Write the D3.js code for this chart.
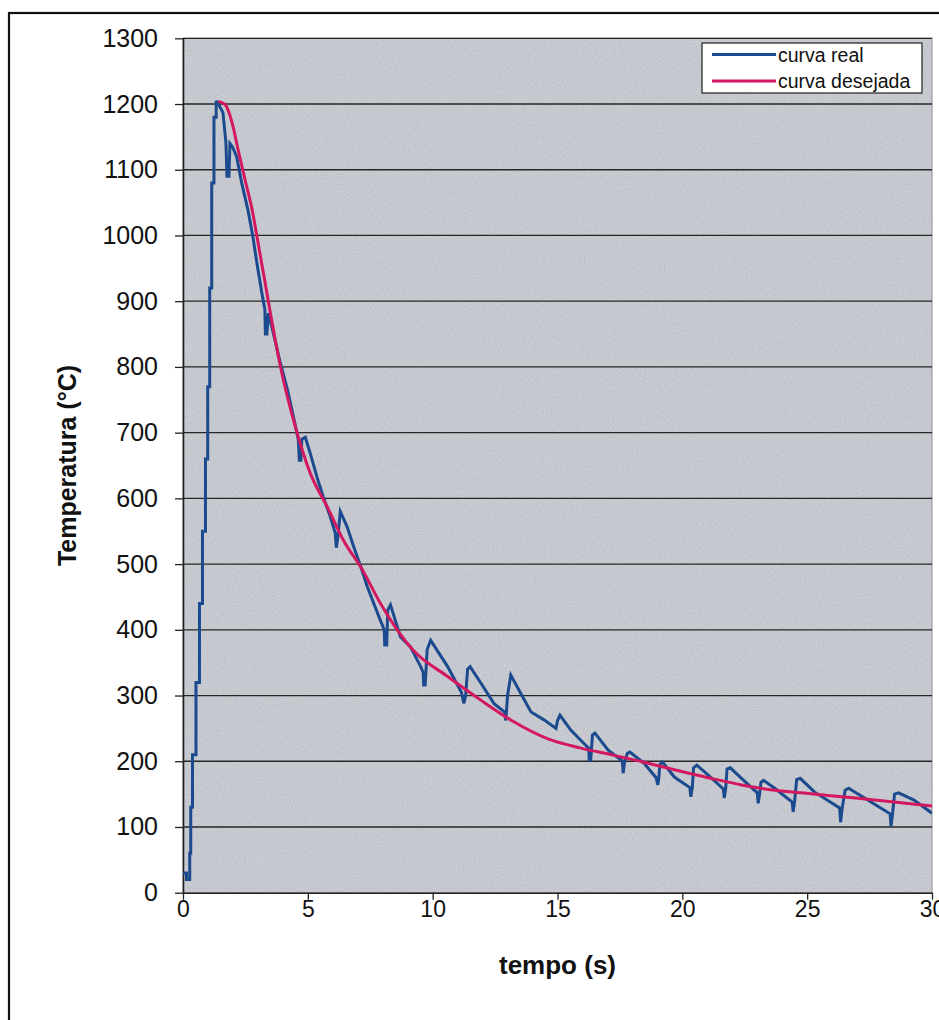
<!DOCTYPE html>
<html>
<head>
<meta charset="utf-8">
<script src="https://cdn.jsdelivr.net/npm/d3@7"></script>
<style>
  body { margin: 0; background: #ffffff; }
  svg { display: block; }
</style>
</head>
<body>
<script>
// Axis ticks
const xTicks = [0, 5, 10, 15, 20, 25, 30];
const yTicks = [0, 100, 200, 300, 400, 500, 600, 700, 800, 900, 1000, 1100, 1200, 1300];

// Measured temperature ("curva real"): time (s) and temperature (°C)
const realTime = [0.00, 0.10, 0.14, 0.24, 0.27, 0.31, 0.38, 0.52, 0.66, 0.78, 0.90, 0.99, 1.07, 1.15, 1.24, 1.33, 1.42, 1.60, 1.72, 1.76, 1.84, 1.88, 1.98, 2.15, 2.35, 2.60, 2.80, 2.96, 3.16, 3.28, 3.30, 3.36, 3.42, 3.62, 3.90, 4.18, 4.42, 4.62, 4.66, 4.72, 4.76, 4.90, 5.10, 5.37, 5.62, 5.90, 6.10, 6.14, 6.20, 6.30, 6.57, 6.83, 7.11, 7.38, 7.58, 7.90, 8.06, 8.08, 8.16, 8.20, 8.31, 8.71, 9.11, 9.52, 9.62, 9.64, 9.70, 9.78, 9.92, 10.60, 11.15, 11.25, 11.32, 11.40, 11.50, 11.93, 12.45, 12.88, 12.93, 13.00, 13.13, 13.53, 13.94, 14.46, 14.94, 15.00, 15.10, 15.54, 16.06, 16.25, 16.27, 16.33, 16.40, 16.50, 17.03, 17.55, 17.60, 17.63, 17.69, 17.80, 17.90, 18.47, 18.95, 19.02, 19.06, 19.10, 19.20, 19.68, 20.30, 20.34, 20.40, 20.45, 20.58, 21.04, 21.64, 21.68, 21.74, 21.79, 21.92, 22.37, 23.00, 23.04, 23.10, 23.15, 23.25, 23.70, 24.40, 24.44, 24.50, 24.58, 24.72, 25.30, 26.30, 26.34, 26.40, 26.52, 26.66, 27.43, 28.32, 28.36, 28.42, 28.50, 28.66, 29.28, 30.00];
const realTemp = [30, 30, 20, 20, 60, 130, 210, 320, 440, 550, 660, 770, 920, 1080, 1180, 1205, 1200, 1187, 1141, 1090, 1090, 1140, 1135, 1120, 1080, 1039, 998, 958, 912, 887, 850, 850, 882, 851, 806, 766, 725, 689, 658, 658, 690, 693, 668, 632, 602, 572, 547, 525, 540, 580, 557, 527, 497, 466, 446, 415, 400, 377, 377, 430, 438, 389, 374, 344, 335, 316, 316, 370, 384, 344, 305, 288, 300, 340, 344, 319, 288, 275, 262, 300, 331, 303, 275, 263, 250, 262, 270, 247, 227, 220, 202, 202, 240, 243, 217, 202, 200, 182, 200, 212, 214, 197, 175, 164, 175, 195, 199, 176, 160, 146, 160, 190, 194, 179, 158, 144, 160, 188, 190, 174, 152, 136, 152, 168, 171, 159, 138, 123, 140, 172, 174, 153, 129, 107, 128, 156, 159, 141, 120, 101, 120, 150, 152, 141, 121];

// Target cooling curve ("curva desejada")
const desiredTime = [1.41, 1.69, 1.97, 2.21, 2.49, 2.77, 3.01, 3.29, 3.57, 3.90, 4.50, 5.10, 5.78, 6.43, 7.19, 7.91, 9.24, 10.60, 11.93, 13.25, 14.62, 15.94, 17.27, 18.63, 19.68, 21.04, 22.37, 23.70, 25.06, 26.39, 27.71, 30.00];
const desiredTemp = [1204, 1199, 1171, 1130, 1084, 1039, 988, 928, 867, 801, 709, 638, 587, 536, 491, 440, 368, 329, 293, 260, 234, 220, 209, 197, 187, 175, 164, 156, 151, 146, 141, 132];

const seriesNames = ["curva real", "curva desejada"];
const seriesColors = ["#1c4a8e", "#d4185f"];

const W = 939, H = 1020;
const plot = { left: 183, right: 932, top: 38.3, bottom: 892.7 };
const fontFamily = "'Liberation Sans', Arial, sans-serif";

const svg = d3.select("body").append("svg")
  .attr("width", W).attr("height", H)
  .style("font-family", fontFamily);

// Grain texture for the plot background
const defs = svg.append("defs");
const grain = defs.append("filter").attr("id", "grain")
  .attr("x", 0).attr("y", 0).attr("width", 1).attr("height", 1);
grain.append("feTurbulence").attr("type", "fractalNoise")
  .attr("baseFrequency", 0.9).attr("numOctaves", 1).attr("seed", 3).attr("result", "noise");
grain.append("feColorMatrix").attr("in", "noise").attr("type", "matrix")
  .attr("values", "1 0 0 0 0  1 0 0 0 0  1 0 0 0 0.03  0 0 0 0 0.2");
defs.append("clipPath").attr("id", "plotClip").append("rect")
  .attr("x", plot.left).attr("y", plot.top - 4)
  .attr("width", plot.right - plot.left).attr("height", plot.bottom - plot.top + 8);

// Outer chart frame
svg.append("rect")
  .attr("x", 9).attr("y", 13).attr("width", 1000).attr("height", 1100)
  .attr("fill", "#ffffff").attr("stroke", "#111").attr("stroke-width", 2.2);

const x = d3.scaleLinear().domain([0, 30]).range([plot.left, plot.right]);
const y = d3.scaleLinear().domain([0, 1300]).range([plot.bottom, plot.top]);

// Plot area
svg.append("rect")
  .attr("x", plot.left).attr("y", plot.top)
  .attr("width", plot.right - plot.left).attr("height", plot.bottom - plot.top)
  .attr("fill", "#c8ccd2").attr("stroke", "#8a8a8a").attr("stroke-width", 1);
svg.append("rect")
  .attr("x", plot.left).attr("y", plot.top)
  .attr("width", plot.right - plot.left).attr("height", plot.bottom - plot.top)
  .attr("filter", "url(#grain)");

// Horizontal gridlines
svg.append("g").selectAll("line")
  .data(yTicks.filter(d => d > 0))
  .join("line")
  .attr("x1", plot.left).attr("x2", plot.right)
  .attr("y1", d => y(d)).attr("y2", d => y(d))
  .attr("stroke", "#262626").attr("stroke-width", 1.3);

// Axes
const yAxis = svg.append("g")
  .attr("transform", `translate(${plot.left},0)`)
  .call(d3.axisLeft(y).tickValues(yTicks).tickFormat(d3.format("d"))
    .tickSizeInner(8).tickSizeOuter(0).tickPadding(17));
const xAxis = svg.append("g")
  .attr("transform", `translate(0,${plot.bottom})`)
  .call(d3.axisBottom(x).tickValues(xTicks).tickFormat(d3.format("d"))
    .tickSizeInner(7).tickSizeOuter(0).tickPadding(1));

[yAxis, xAxis].forEach(g => {
  g.select(".domain").attr("stroke", "#222").attr("stroke-width", 1.6);
  g.selectAll(".tick line").attr("stroke", "#222").attr("stroke-width", 1.3);
  g.selectAll(".tick text").attr("fill", "#111").style("font-family", fontFamily);
});
yAxis.selectAll(".tick text").attr("font-size", 25);
xAxis.selectAll(".tick text").attr("font-size", 23);

// Axis titles
svg.append("text")
  .attr("x", (plot.left + plot.right) / 2).attr("y", 974)
  .attr("text-anchor", "middle").attr("font-weight", "bold").attr("font-size", 26)
  .attr("fill", "#111").text("tempo (s)");
svg.append("text")
  .attr("transform", `translate(76,${(plot.top + plot.bottom) / 2}) rotate(-90)`)
  .attr("text-anchor", "middle").attr("font-weight", "bold").attr("font-size", 25)
  .attr("fill", "#111").text("Temperatura (°C)");

// Curves: the heating ramp of the measured series is drawn as a staircase,
// the cooling part as a polyline through the sampled points.
const realData = realTime.map((t, i) => [t, realTemp[i]]);
const peakIndex = d3.maxIndex(realTemp);
const rampData = realData.slice(0, peakIndex + 1);
const coolData = realData.slice(peakIndex);
const desiredData = desiredTime.map((t, i) => [t, desiredTemp[i]]);

const lines = svg.append("g").attr("clip-path", "url(#plotClip)");
lines.append("path")
  .datum(rampData)
  .attr("d", d3.line().x(d => x(d[0])).y(d => y(d[1])).curve(d3.curveStepAfter))
  .attr("fill", "none").attr("stroke", seriesColors[0]).attr("stroke-width", 3);
lines.append("path")
  .datum(coolData)
  .attr("d", d3.line().x(d => x(d[0])).y(d => y(d[1])).curve(d3.curveLinear))
  .attr("fill", "none").attr("stroke", seriesColors[0]).attr("stroke-width", 3)
  .attr("stroke-linejoin", "miter");
lines.append("path")
  .datum(desiredData)
  .attr("d", d3.line().x(d => x(d[0])).y(d => y(d[1])).curve(d3.curveMonotoneX))
  .attr("fill", "none").attr("stroke", seriesColors[1]).attr("stroke-width", 3);

// Legend
const legend = svg.append("g").attr("transform", "translate(702,43)");
legend.append("rect").attr("width", 220).attr("height", 50)
  .attr("fill", "#ffffff").attr("stroke", "#222").attr("stroke-width", 1.2);
seriesNames.forEach((name, i) => {
  const row = legend.append("g").attr("transform", `translate(0,${11.5 + i * 26.5})`);
  row.append("line").attr("x1", 10).attr("x2", 74).attr("y1", 0).attr("y2", 0)
    .attr("stroke", seriesColors[i]).attr("stroke-width", 3);
  row.append("text").attr("x", 76).attr("y", 7).attr("font-size", 19.5)
    .attr("fill", "#111").text(name);
});
</script>
</body>
</html>
